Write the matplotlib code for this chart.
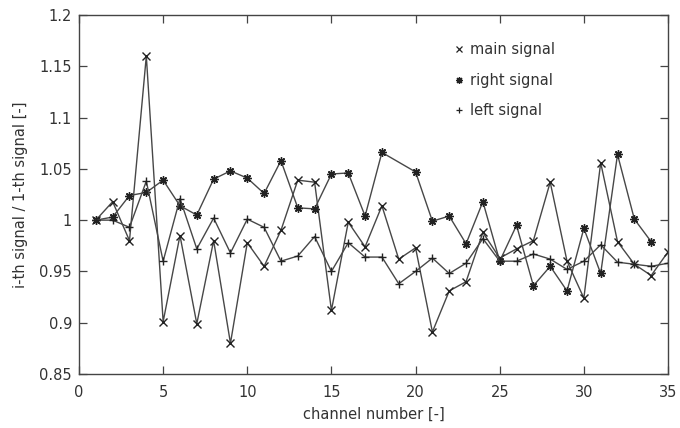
import numpy as np
import matplotlib
matplotlib.use('Agg')
import matplotlib.pyplot as plt
from matplotlib.lines import Line2D
from matplotlib.ticker import FuncFormatter

# channel numbers
ch_main = list(range(1, 36))
ch_right = list(range(1, 19)) + list(range(20, 35))  # no point at 19
ch_left = list(range(1, 36))

main_signal = [1.0, 1.018, 0.980, 1.160, 0.901, 0.985, 0.899, 0.980, 0.880, 0.978,
               0.955, 0.990, 1.039, 1.037, 0.912, 0.998, 0.974, 1.014, 0.962, 0.973,
               0.891, 0.931, 0.940, 0.988, 0.963, 0.972, 0.980, 1.037, 0.960, 0.924,
               1.056, 0.979, 0.957, 0.946, 0.969]
right_signal = [1.0, 1.003, 1.024, 1.027, 1.039, 1.014, 1.005, 1.040, 1.048, 1.041,
                1.026, 1.058, 1.012, 1.011, 1.045, 1.046, 1.004, 1.066,
                1.047, 0.999, 1.004, 0.977, 1.018, 0.960, 0.995, 0.936, 0.955, 0.931,
                0.992, 0.948, 1.064, 1.001, 0.979]
left_signal = [1.0, 1.0, 0.993, 1.038, 0.960, 1.021, 0.972, 1.002, 0.968, 1.001,
               0.993, 0.960, 0.965, 0.984, 0.950, 0.978, 0.964, 0.964, 0.938, 0.950,
               0.963, 0.948, 0.958, 0.982, 0.960, 0.960, 0.967, 0.962, 0.952, 0.960,
               0.976, 0.959, 0.957, 0.955, 0.958]

labels = ['main signal', 'right signal', 'left signal']
markers = ['x', (8, 2, 0), '+']

plt.rcParams['font.family'] = ['DejaVu Sans']
txt_col = '#333333'
line_col = '#474747'

fig = plt.figure(figsize=(6.8, 4.28), dpi=100)
ax = fig.add_axes([79/680, 54/428, 589/680, 359/428])

for xs, ys, m in zip([ch_main, ch_right, ch_left],
                     [main_signal, right_signal, left_signal], markers):
    ax.plot(xs, ys, color=line_col, lw=1.0, marker=m, markersize=6,
            markeredgewidth=1.0, markeredgecolor='#222222')

ax.set_xlim(0, 35)
ax.set_ylim(0.85, 1.2)
ax.set_xticks(np.arange(0, 36, 5))
ax.set_yticks(np.arange(0.85, 1.2001, 0.05))
ax.yaxis.set_major_formatter(FuncFormatter(lambda v, p: '%g' % round(v, 3)))
ax.tick_params(direction='in', length=5.5, width=0.9, top=True, right=True,
               labelsize=10.5, labelcolor=txt_col, color='#444444')
ax.tick_params(axis='x', pad=8)
ax.tick_params(axis='y', pad=5)
for s in ax.spines.values():
    s.set_color('#444444')
    s.set_linewidth(1.0)

ax.set_xlabel('channel number [-]', fontsize=10.5, color=txt_col, labelpad=5)
ax.set_ylabel('i-th signal / 1-th signal [-]', fontsize=10.5, color=txt_col, labelpad=8)

handles = [Line2D([], [], ls='none', marker=m, color='#222222', markersize=5,
                  markeredgewidth=0.9) for m in markers]
leg = ax.legend(handles, labels, loc='upper left', bbox_to_anchor=(0.627, 0.94),
                frameon=False, fontsize=10.5, handlelength=0.6, handletextpad=0.5,
                labelspacing=1.05, borderaxespad=0)
for t in leg.get_texts():
    t.set_color(txt_col)

fig.savefig('out.png', dpi=100)
